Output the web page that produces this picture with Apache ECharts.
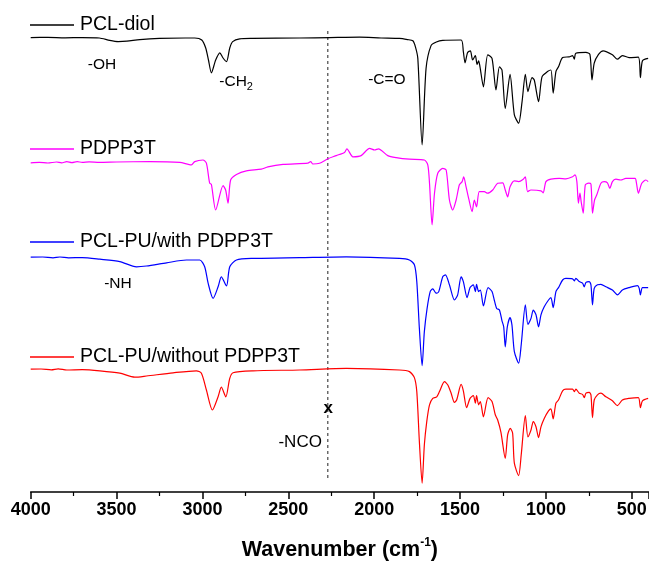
<!DOCTYPE html>
<html>
<head>
<meta charset="utf-8">
<title>FTIR spectra</title>
<script src="https://cdn.jsdelivr.net/npm/echarts@6/dist/echarts.min.js"></script>
<style>
  html, body { margin: 0; padding: 0; background: #fff; }
  #main { width: 649px; height: 568px; }
</style>
</head>
<body>
<div id="main"></div>
<script>
// spectra: [wavenumber (cm-1), transmittance (a.u., offset)]
const pclDiol = [
  [4000, 113.6], [3900, 113.65], [3800, 113.55], [3700, 113.6], [3600, 113.5], [3540, 112.9],
  [3490, 112.6], [3440, 112.7], [3365, 113.1], [3250, 113.4], [3100, 113.5], [3045, 113.5],
  [3004, 113], [2981, 111], [2965, 108], [2948, 104.8], [2923, 108], [2899, 109.8], [2880, 108.5],
  [2860, 107.6], [2841, 111], [2824, 112.6], [2783, 113.3], [2707, 113.4], [2434, 113.5],
  [2260, 113.6], [2085, 113.7], [1960, 113.5], [1853, 113.4], [1806, 113.1], [1775, 112.8],
  [1760, 111.3], [1746, 108.4], [1721, 86.8], [1698, 105.9], [1669, 111.6], [1638, 112.5],
  [1601, 112.9], [1494, 113], [1481, 110.1], [1471, 107.3], [1456, 109.9], [1440, 110.3],
  [1427, 108], [1411, 109.1], [1401, 106.9], [1392, 107.8], [1384, 106.3], [1364, 101.3],
  [1339, 109.3], [1314, 108.4], [1291, 100.5], [1271, 106.3], [1256, 105.5], [1237, 95.9],
  [1209, 104.4], [1184, 94.3], [1159, 92.2], [1139, 97.6], [1120, 104.4], [1105, 100.1],
  [1081, 103.6], [1068, 103], [1043, 97.6], [1023, 103.8], [991, 105.1], [971, 105.5],
  [958, 99.7], [942, 105.1], [927, 106.3], [903, 108.6], [865, 108.8], [845, 109.1],
  [835, 108.2], [826, 109.7], [767, 109.9], [744, 109.4], [732, 103], [719, 107.2],
  [694, 109.4], [667, 110.3], [613, 109.3], [584, 108.2], [555, 109.1], [516, 108.6],
  [462, 108.7], [450, 103.6], [438, 107.8], [405, 108.4]
]

const pdpp3t = [
  [4000, 82.3], [3950, 82.4], [3900, 82.25], [3850, 82.5], [3820, 82.3], [3790, 82.6],
  [3760, 82.35], [3730, 82.6], [3700, 82.4], [3660, 82.55], [3600, 82.4], [3500, 82.5],
  [3306, 82.6], [3132, 82.4], [3064, 81.8], [3045, 82.6], [2997, 83], [2977, 82.2],
  [2958, 77.2], [2948, 76.9], [2923, 70.5], [2880, 76.6], [2865, 75.5], [2851, 72.2],
  [2836, 78], [2802, 79.4], [2744, 80.3], [2657, 80.7], [2619, 81.3], [2531, 81.9],
  [2386, 82.2], [2370, 82.6], [2357, 82], [2318, 82.2], [2270, 83.3], [2221, 84.1],
  [2173, 84.9], [2159, 85.8], [2124, 83.8], [2076, 84.1], [2027, 85.9], [1998, 85.5],
  [1975, 85.8], [1921, 84.1], [1872, 83.6], [1795, 83.2], [1708, 83], [1688, 81.8],
  [1678, 77.2], [1663, 66.8], [1649, 74.7], [1630, 79.7], [1601, 80.9], [1581, 80.5],
  [1562, 73], [1543, 70.5], [1523, 73], [1504, 76.8], [1488, 77.6], [1479, 78.8],
  [1465, 76.3], [1450, 73.4], [1430, 70.1], [1417, 73], [1404, 71.3], [1388, 75.1],
  [1359, 75.1], [1340, 74.7], [1310, 75.5], [1281, 77.2], [1252, 77.3], [1237, 75.5],
  [1223, 73.8], [1209, 76.3], [1184, 77.8], [1159, 77.6], [1132, 78.2], [1120, 78.8],
  [1107, 75.1], [1087, 75.5], [1029, 75.3], [1016, 74.8], [1000, 77.6], [971, 78.2],
  [923, 78.4], [884, 78.3], [845, 78.8], [831, 79.3], [820, 77.6], [811, 72.2],
  [802, 74.7], [795, 72.6], [783, 69.7], [771, 76.8], [752, 77.2], [738, 77],
  [729, 69.7], [717, 73], [704, 74.3], [680, 77.2], [661, 77.6], [642, 77.3],
  [628, 75.9], [613, 77.6], [593, 78.2], [564, 78], [535, 78.4], [481, 78.4],
  [473, 77.2], [462, 74.7], [442, 77.2], [418, 78], [405, 77.6]
]

const puWith = [
  [4000, 58.7], [3930, 58.75], [3870, 58.55], [3830, 58.75], [3780, 58.55], [3700, 58.6],
  [3597, 58.2], [3481, 57.6], [3384, 56.3], [3326, 56.5], [3209, 57.3], [3093, 58],
  [3016, 58], [2987, 56.3], [2967, 52.2], [2938, 48.4], [2909, 51.3], [2890, 53.8],
  [2860, 51.5], [2841, 56.3], [2802, 58], [2706, 58.4], [2434, 58.6], [2163, 58.8],
  [1853, 58.4], [1795, 58], [1766, 56.8], [1752, 52.6], [1737, 40.9], [1721, 31.6],
  [1708, 40.1], [1692, 45.9], [1674, 50.1], [1659, 50.8], [1639, 49.7], [1624, 50.1],
  [1601, 53.8], [1585, 54.3], [1562, 51.8], [1533, 48], [1514, 49.3], [1494, 53.8],
  [1481, 52.6], [1459, 48.6], [1442, 51.1], [1423, 51.8], [1411, 50.1], [1404, 51.9],
  [1392, 50.1], [1382, 50.5], [1364, 46.5], [1337, 51.1], [1314, 50.1], [1301, 48],
  [1287, 45.9], [1271, 45.5], [1256, 42.8], [1246, 41.3], [1237, 36.3], [1225, 41.3],
  [1209, 43.6], [1198, 41.8], [1184, 35.1], [1159, 32.2], [1144, 36.8], [1120, 46.8],
  [1105, 41.9], [1087, 43.4], [1074, 45.5], [1058, 44.3], [1043, 41.3], [1029, 44.3],
  [1010, 46.3], [985, 48], [971, 48.6], [958, 46.1], [942, 50.1], [927, 51.1],
  [903, 53], [884, 53.4], [845, 53.3], [835, 52.8], [826, 53.4], [806, 52.6],
  [787, 52.2], [777, 51.3], [767, 52.4], [748, 52.6], [738, 51.8], [729, 46.8],
  [719, 50.9], [700, 51.8], [680, 51.9], [651, 51.3], [613, 50.5], [584, 49.3],
  [555, 50.5], [516, 51.1], [467, 51.6], [457, 50.9], [450, 49.3], [438, 51.1], [405, 51.1]
]

const puWithout = [
  [4000, 30.7], [3940, 30.75], [3880, 30.55], [3840, 30.8], [3790, 30.5], [3700, 30.6],
  [3597, 30.3], [3481, 29.7], [3394, 28.7], [3326, 29], [3171, 29.8], [3035, 30.3],
  [3006, 29.7], [2977, 25.5], [2942, 20.5], [2909, 23.8], [2890, 26.2], [2864, 23.8],
  [2841, 28.4], [2822, 29.8], [2706, 30.3], [2434, 30.5], [2163, 30.9], [1853, 30.5],
  [1795, 30.1], [1766, 28.6], [1752, 25.1], [1737, 12.6], [1721, 2.2], [1708, 11.8],
  [1694, 17.6], [1678, 21.8], [1659, 23.4], [1636, 23.8], [1620, 25.1], [1591, 27.6],
  [1572, 26.8], [1552, 24.7], [1533, 22.4], [1520, 23], [1494, 26.9], [1481, 25.3],
  [1462, 21.1], [1442, 23.4], [1423, 24.1], [1411, 22.2], [1404, 24.1], [1392, 21.8],
  [1382, 22.6], [1364, 18.8], [1337, 23.6], [1314, 22.6], [1295, 19.3], [1281, 18],
  [1262, 14.9], [1237, 8.4], [1223, 14.3], [1208, 15.9], [1194, 14.7], [1184, 7.2],
  [1159, 4.1], [1144, 9.3], [1120, 19.1], [1105, 13.8], [1087, 15.5], [1074, 17.6],
  [1058, 16.3], [1043, 13.6], [1029, 16.3], [1010, 18.4], [985, 20.3], [971, 20.8],
  [958, 18.3], [942, 22.2], [927, 23], [903, 25.3], [884, 25.7], [845, 25.7],
  [835, 25.1], [826, 25.7], [806, 24.7], [787, 24.4], [777, 23.6], [767, 24.7],
  [748, 24.9], [738, 24.3], [729, 18.6], [719, 23], [700, 24.3], [680, 24.7],
  [651, 23.8], [613, 22.8], [584, 21.6], [555, 23], [516, 23.4], [462, 23.6],
  [450, 21.1], [438, 22.8], [405, 23.4]
]

const seriesNames = ['PCL-diol', 'PDPP3T', 'PCL-PU/with PDPP3T', 'PCL-PU/without PDPP3T']
const seriesData = [pclDiol, pdpp3t, puWith, puWithout]
const seriesColors = ['#000000', '#ff00ff', '#0000ff', '#ff0000']

// vertical guide at the NCO band
const ncoLine = [[2270, 3.5], [2270, 116]]

// band annotations
const noteTexts = ['-OH', '-CH{sub|2}', '-C=O', '-NH', '{n|-NCO}', '{b|x}']
const notePoints = [[3585, 106.8], [2804, 102.5], [1926, 103], [3492, 52.1], [2431, 12.3], [2267, 20.8]]

const FONT = 'Arial, "Liberation Sans", sans-serif'

const chart = echarts.init(document.getElementById('main'))

const legendTops = [15, 139, 232, 347]

const option = {
    animation: false,
    backgroundColor: '#ffffff',
    grid: {
        left: 30.7,
        right: 0,
        top: 12,
        bottom: 76,
        containLabel: false,
        outerBoundsMode: 'none'
    },
    legend: seriesNames.map((name, i) => ({
        data: [{ name, icon: 'rect' }],
        left: 30,
        top: legendTops[i],
        padding: 0,
        itemWidth: 44,
        itemHeight: 1.3,
        itemGap: 0,
        selectedMode: false,
        textStyle: { fontSize: 19.5, color: '#000', fontFamily: FONT, padding: [0, 0, 0, 1] }
    })),
    xAxis: {
        type: 'value',
        inverse: true,
        min: 400,
        max: 4000,
        splitNumber: 7,
        axisLine: { lineStyle: { color: '#000', width: 1.5 } },
        axisTick: { length: 7, lineStyle: { color: '#000', width: 1.5 } },
        minorTick: { show: true, splitNumber: 2, length: 4, lineStyle: { color: '#000', width: 1.2 } },
        splitLine: { show: false },
        axisLabel: {
            margin: 9,
            color: '#000',
            fontSize: 18,
            fontWeight: 'bold',
            fontFamily: FONT,
            formatter: v => (v % 500 === 0 ? String(v) : '')
        },
        name: '{t|Wavenumber (cm}{s|-1}{t|)}',
        nameLocation: 'middle',
        nameGap: 45,
        nameTextStyle: {
            rich: {
                t: { fontSize: 21.5, fontWeight: 'bold', fontFamily: FONT, color: '#000', lineHeight: 26 },
                s: { fontSize: 12, fontWeight: 'bold', fontFamily: FONT, color: '#000', verticalAlign: 'top', lineHeight: 26, padding: [0, 0, 12, 0] }
            }
        }
    },
    yAxis: {
        type: 'value',
        min: 0,
        max: 120,
        show: false
    },
    series: [
        ...seriesNames.map((name, i) => ({
            name,
            type: 'line',
            data: seriesData[i],
            symbol: 'none',
            showSymbol: false,
            smooth: 0.25,
            color: seriesColors[i],
            lineStyle: { color: seriesColors[i], width: 1.2 },
            z: 3
        })),
        {
            type: 'line',
            data: ncoLine,
            symbol: 'none',
            silent: true,
            lineStyle: { color: '#222', width: 1, type: [3, 3] },
            z: 2
        },
        {
            type: 'scatter',
            symbolSize: 0,
            silent: true,
            itemStyle: { opacity: 1 },
            data: notePoints.map((p, i) => ({ value: p, name: noteTexts[i] })),
            label: {
                show: true,
                position: 'inside',
                formatter: p => p.name,
                color: '#000',
                opacity: 1,
                textBorderWidth: 0,
                fontSize: 15.5,
                fontFamily: FONT,
                rich: {
                    sub: { fontSize: 11, fontFamily: FONT, color: '#000', textBorderWidth: 0, verticalAlign: 'bottom', padding: [9, 0, 0, 0] },
                    n: { fontSize: 17, fontFamily: FONT, color: '#000', textBorderWidth: 0 },
                    b: { fontSize: 17, fontWeight: 'bold', fontFamily: FONT, color: '#000', textBorderWidth: 0 }
                }
            },
            z: 4
        }
    ]
}

chart.setOption(option)
</script>
</body>
</html>
